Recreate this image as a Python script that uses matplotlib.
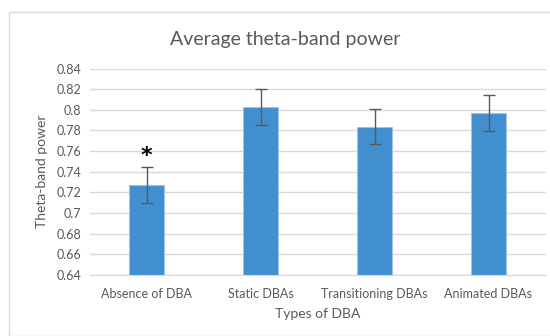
import matplotlib.pyplot as plt
from matplotlib.patches import Rectangle

categories = ["Absence of DBA", "Static DBAs", "Transitioning DBAs", "Animated DBAs"]
values = [0.727, 0.803, 0.7835, 0.797]
errors = [0.0175, 0.0175, 0.017, 0.0177]
yticks = [0.64, 0.66, 0.68, 0.7, 0.72, 0.74, 0.76, 0.78, 0.8, 0.82, 0.84]
ytick_labels = ["0.64", "0.66", "0.68", "0.7", "0.72", "0.74", "0.76", "0.78", "0.8", "0.82", "0.84"]

plt.rcParams['font.family'] = ['Lato', 'DejaVu Sans']
gray = "#595959"

fig = plt.figure(figsize=(5.5, 3.36), dpi=100)
ax = fig.add_axes([89.5 / 550, 1 - 275 / 336, 456 / 550, 206.5 / 336])

# chart border
fig.patches.append(Rectangle((9 / 550, 0), 1, 1 - 12 / 336, transform=fig.transFigure,
                             fill=False, edgecolor="#d9d9d9", linewidth=1, zorder=0))

x = range(len(categories))
ax.bar(x, values, width=0.31, color="#428fd0", edgecolor="#9ec3e8", linewidth=0.8, zorder=2)
ax.errorbar(x, values, yerr=errors, fmt="none", ecolor=gray, elinewidth=1, capsize=4,
            capthick=1, zorder=3)

ax.text(0, 0.7555, "*", ha="center", va="center", fontsize=16, fontweight="bold",
        color="black", family="DejaVu Sans")

ax.set_ylim(0.64, 0.84)
ax.set_xlim(-0.5, 3.5)
ax.set_yticks(yticks)
ax.set_yticklabels(ytick_labels)
ax.set_xticks(list(x))
ax.set_xticklabels(categories)
ax.tick_params(axis="both", length=0, labelsize=9, colors=gray)
ax.tick_params(axis="x", pad=9)
ax.tick_params(axis="y", pad=6)
ax.grid(axis="y", color="#d9d9d9", linewidth=1, zorder=0)
ax.set_axisbelow(True)
for s in ["top", "right", "left"]:
    ax.spines[s].set_visible(False)
ax.spines["bottom"].set_color("#d9d9d9")

ax.set_xlabel("Types of DBA", fontsize=10, color=gray, labelpad=6)
ax.set_ylabel("Theta-band power", fontsize=10, color=gray, labelpad=6)
fig.text(285 / 550, 1 - 40 / 336, "Average theta-band power", ha="center", va="center",
         fontsize=14, color=gray)

fig.savefig("out.png", dpi=100)
